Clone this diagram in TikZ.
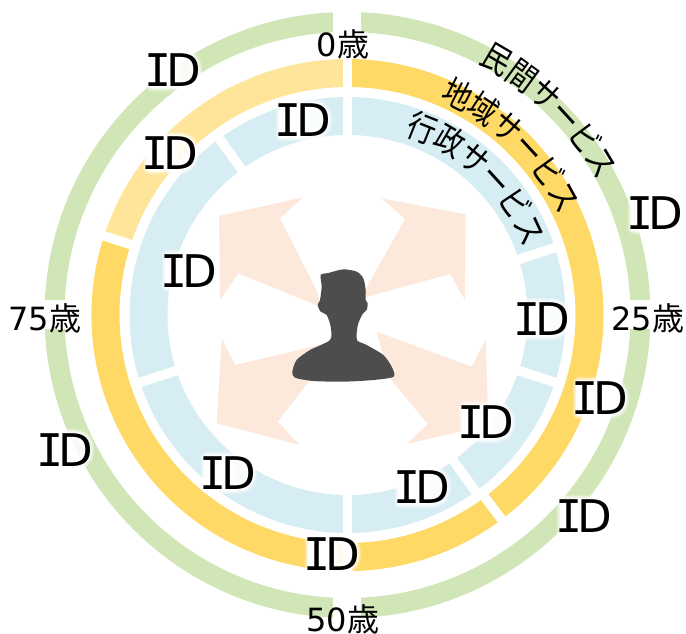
\documentclass[tikz,border=0pt]{standalone}
\usepackage{fontspec}
\usetikzlibrary{decorations.text}
\setmainfont{DejaVu Sans}
\newfontfamily\cjkfnt{Noto Sans CJK JP}
\newfontfamily\arcjk[FakeStretch=0.85]{Noto Sans CJK JP}
\newfontfamily\idfnt{DejaVu Sans Mono}
\definecolor{ringgreen}{HTML}{D0E6B6}
\definecolor{ringorange}{HTML}{FFD966}
\definecolor{ringpale}{HTML}{FFE599}
\definecolor{ringblue}{HTML}{D7EDF4}
\definecolor{peach}{HTML}{FCE9DC}
\definecolor{person}{HTML}{4D4D4D}
\newcommand\arcfnt{\arcjk\fontsize{33.5}{33.5}\selectfont}
\newcommand\ringsector[5]{\fill[#1] (#2:#4pt) arc[start angle=#2,end angle=#3,radius=#4pt] -- (#3:#5pt) arc[start angle=#3,end angle=#2,radius=#5pt] -- cycle;}
\newcommand\agelabel[4]{\node[agetext] (#1) at (#2,#3) {#4{\cjkfnt 歳}};}
\newcommand\idlabel[3]{%
  \begin{scope}[shift={(#2,#3)}]
    \foreach \w/\o in {13/.25,10/.4,7/.7}{
      \draw[white,fill=white,line width=\w pt,opacity=\o,line cap=round,line join=round]
        (-21,-15) rectangle (2,15)
        (2,-15)--(2,15)--(8,15) .. controls (18,15) and (23,9) .. (23,0) .. controls (23,-9) and (18,-15) .. (8,-15) -- cycle;
    }
    \fill[white] (-24,-17) rectangle (3,17);
    \node[idtext] (#1) at (0,0) {{\idfnt I}\kern-4.5pt D};
  \end{scope}}
\tikzset{
  agetext/.style={inner sep=0pt,font=\fontsize{32}{32}\selectfont},
  idtext/.style={inner sep=0pt,font=\fontsize{45}{45}\selectfont},
  gapline/.style={white,line width=9.5pt},
  gapbox/.style={white},
  arcpath/.style={decorate,decoration={text along path,text align=left,text={#1}}},
  arrowfill/.style={peach}
}
\begin{document}
\begin{tikzpicture}[x=1pt,y=-1pt]
\useasboundingbox (0,0) rectangle (686,633);
% arrows
\begin{scope}[shift={(200,180)},x=1pt/3,y=-1pt/3]
  \fill[arrowfill] (495,330)--(615,118)--(545,55)--(797,103)--(795,360)--(750,282)--(495,352)--cycle;
  \fill[arrowfill] (352,335)--(240,115)--(310,52)--(57,108)--(60,360)--(115,280)--(360,380)--cycle;
  \fill[arrowfill] (380,490)--(105,555)--(65,475)--(50,730)--(300,795)--(233,725)--(330,600)--cycle;
  \fill[arrowfill] (530,455)--(815,560)--(857,480)--(865,735)--(620,792)--(683,732)--(570,595)--cycle;
\end{scope}
% rings
\begin{scope}[shift={(347.5,315)}]
  \fill[ringgreen,even odd rule] (0,0) circle[radius=303pt] (0,0) circle[radius=283pt];
  \ringsector{ringorange}{-198}{90}{256}{228}
  \ringsector{ringpale}{90}{162}{256}{228}
  \fill[ringblue,even odd rule] (0,0) circle[radius=218pt] (0,0) circle[radius=180pt];
  \foreach \a in {90,18,-18,-54,-90,-162,126}{\draw[gapline] (\a:176pt)--(\a:222pt);}
  \foreach \a in {90,-53,162,-90}{\draw[gapline] (\a:224pt)--(\a:260pt);}
  \fill[gapbox] (-14.5,-310) rectangle (13.5,-275);
  \fill[gapbox] (-14.5,310) rectangle (13.5,275);
  \fill[gapbox] (275,-15) rectangle (310,14);
  \fill[gapbox] (-275,-15) rectangle (-310,14);
  \path[arcpath={|\arcfnt|民間サービス}] (62.5:284pt) arc[start angle=62.5,end angle=20,radius=284pt];
  \path[arcpath={|\arcfnt|地域サービス}] (67:234pt) arc[start angle=67,end angle=20,radius=234pt];
  \path[arcpath={|\arcfnt|行政サービス}] (72.5:189pt) arc[start angle=72.5,end angle=15,radius=189pt];
\end{scope}
% person
\begin{scope}[shift={(200,180)},x=1pt/3,y=-1pt/3]
  \fill[person] plot[smooth cycle,tension=.45] coordinates {
    (362,285)(385,279)(430,268)(470,275)(490,295)(497,330)(497,360)(503,370)(500,390)(488,402)(475,430)
    (470,460)(472,482)(500,495)(550,525)(575,560)(581,590)(520,600)(430,605)(340,603)(285,593)(277,575)
    (290,540)(330,510)(390,480)(392,440)(380,405)(362,395)(353,375)(360,360)(365,320)};
\end{scope}
% ages
\agelabel{age0}{343}{44}{0}
\agelabel{age25}{648}{318}{25}
\agelabel{age50}{343}{619}{50}
\agelabel{age75}{45}{318}{75}
% IDs
\idlabel{ida}{173}{70}
\idlabel{idb}{170}{153}
\idlabel{idc}{303}{120}
\idlabel{idd}{189}{271}
\idlabel{ide}{542}{319}
\idlabel{idf}{655}{213}
\idlabel{idg}{600}{398}
\idlabel{idh}{486}{422}
\idlabel{idi}{584}{516}
\idlabel{idj}{422}{487}
\idlabel{idk}{228}{473}
\idlabel{idl}{65}{450}
\idlabel{idm}{332}{554}
\end{tikzpicture}
\end{document}
